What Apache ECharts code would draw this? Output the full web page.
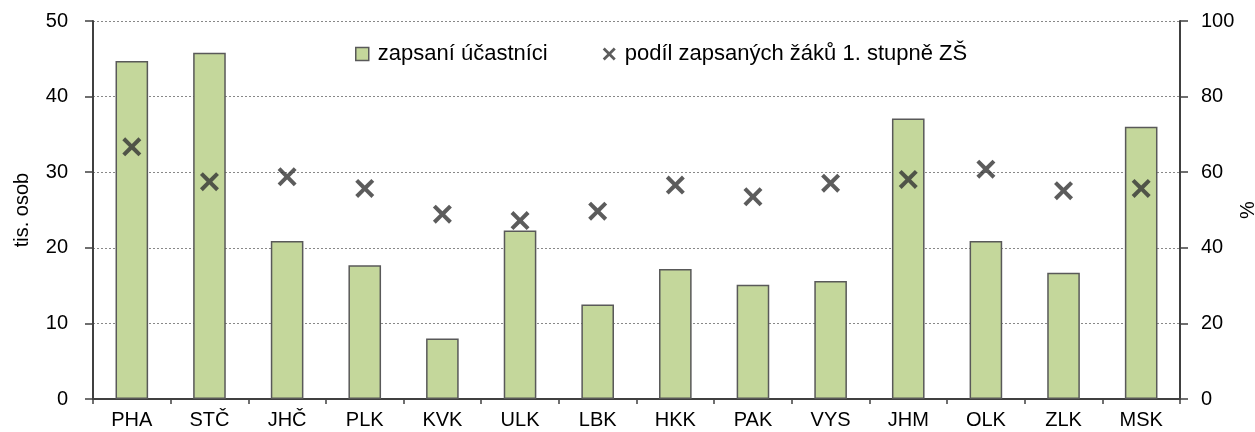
<!DOCTYPE html>
<html>
<head>
<meta charset="utf-8">
<script src="https://cdn.jsdelivr.net/npm/echarts@6/dist/echarts.min.js"></script>
<style>html,body{margin:0;padding:0;background:#fff}#c{width:1255px;height:432px}</style>
</head>
<body>
<div id="c"></div>
<script>
const categories = ['PHA','STČ','JHČ','PLK','KVK','ULK','LBK','HKK','PAK','VYS','JHM','OLK','ZLK','MSK'];
const enrolled = [44.7, 45.8, 20.9, 17.7, 8.0, 22.3, 12.5, 17.2, 15.1, 15.6, 37.1, 20.9, 16.7, 36.0];
const sharePrimary = [66.7, 57.5, 58.8, 55.7, 48.9, 47.2, 49.7, 56.6, 53.5, 57.1, 58.1, 60.8, 55.1, 55.7];
const leftTicks = {min: 0, max: 50, interval: 10};
const rightTicks = {min: 0, max: 100, interval: 20};

const FONT = '"Liberation Sans", Arial, sans-serif';
const AX = '#404040';
const crossPath = 'path://M0,3 L3,0 L10,7 L17,0 L20,3 L13,10 L20,17 L17,20 L10,13 L3,20 L0,17 L7,10 Z';
const squarePath = 'path://M0,0 L10,0 L10,10 L0,10 Z';

const chart = echarts.init(document.getElementById('c'), null, {renderer: 'canvas'});
chart.setOption({
  animation: false,
  textStyle: {fontFamily: FONT},
  grid: {left: 93, right: 75, top: 21, bottom: 33, containLabel: false, outerBoundsMode: 'none'},
  legend: {
    top: 38, left: 350, itemGap: 55, itemWidth: 13, itemHeight: 13,
    textStyle: {fontFamily: FONT, fontSize: 22, color: '#000', padding: [0, 0, 0, 4]},
    data: [
      {name: 'zapsaní účastníci', icon: squarePath, itemStyle: {color: '#c4d79b', borderColor: '#595959', borderWidth: 1.5}},
      {name: 'podíl zapsaných žáků 1. stupně ZŠ', icon: crossPath, itemStyle: {color: '#333', borderWidth: 0}}
    ]
  },
  xAxis: {
    type: 'category', data: categories,
    axisLine: {lineStyle: {color: AX, width: 2}},
    axisTick: {show: true, length: 5, alignWithLabel: false, lineStyle: {color: AX, width: 1.5}},
    axisLabel: {color: '#000', fontSize: 20, margin: 11, fontFamily: FONT}
  },
  yAxis: [
    {
      type: 'value', min: leftTicks.min, max: leftTicks.max, interval: leftTicks.interval,
      name: 'tis. osob', nameLocation: 'middle', nameGap: 61, nameRotate: 90, nameMoveOverlap: false,
      nameTextStyle: {fontSize: 20, color: '#000', fontFamily: FONT},
      axisLine: {show: true, lineStyle: {color: AX, width: 2}},
      axisTick: {show: true, length: 8, lineStyle: {color: AX, width: 1.5}},
      axisLabel: {color: '#000', fontSize: 20, margin: 25, fontFamily: FONT},
      splitLine: {show: true, lineStyle: {color: '#888', type: [2, 2], width: 1}}
    },
    {
      type: 'value', min: rightTicks.min, max: rightTicks.max, interval: rightTicks.interval,
      name: '%', nameLocation: 'middle', nameGap: 58, nameRotate: 90, nameMoveOverlap: false,
      nameTextStyle: {fontSize: 20, color: '#000', fontFamily: FONT},
      axisLine: {show: true, lineStyle: {color: AX, width: 2}},
      axisTick: {show: true, length: 8, lineStyle: {color: AX, width: 1.5}},
      axisLabel: {color: '#000', fontSize: 20, margin: 21, fontFamily: FONT},
      splitLine: {show: false}
    }
  ],
  series: [
    {
      name: 'zapsaní účastníci', type: 'bar', data: enrolled, yAxisIndex: 0,
      barWidth: '42%',
      itemStyle: {color: '#c4d79b', borderColor: '#595959', borderWidth: 1.5}
    },
    {
      name: 'podíl zapsaných žáků 1. stupně ZŠ', type: 'scatter', data: sharePrimary, yAxisIndex: 1,
      symbol: crossPath, symbolSize: 19,
      itemStyle: {color: '#333'}, z: 5
    }
  ]
});
</script>
</body>
</html>
